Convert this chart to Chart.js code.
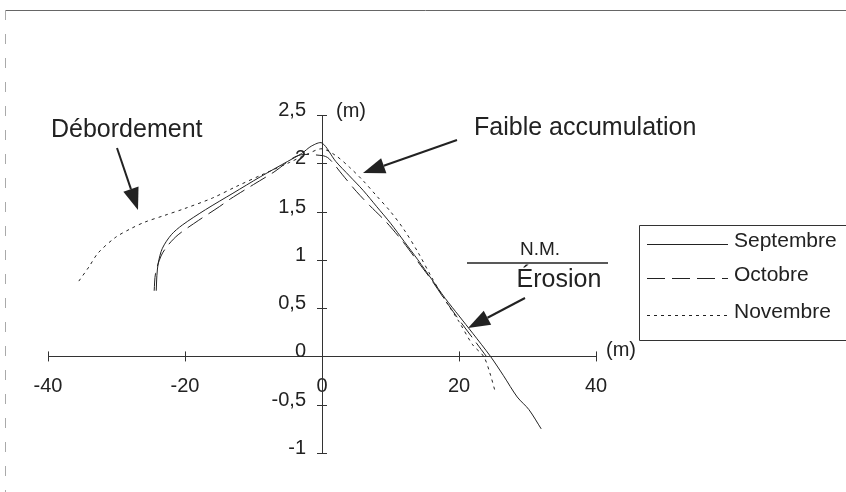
<!DOCTYPE html>
<html>
<head>
<meta charset="utf-8">
<script src="https://cdn.jsdelivr.net/npm/chart.js@4.4.1/dist/chart.umd.min.js"></script>
<style>
  html, body { margin: 0; padding: 0; background: #fff; }
  #wrap { width: 846px; height: 492px; }
</style>
</head>
<body>
<div id="wrap"><canvas id="chart"></canvas></div>
<script>
// profils de plage (distance en m, altitude en m)
var seriesNames = ['Septembre', 'Octobre', 'Novembre'];

var sepX = [-24.2, -24.1, -23.9, -23.3, -22, -20.4, -17, -13, -9, -5, -3, -1.5, 0, 2, 4, 6, 8, 10, 12, 14, 16, 18, 20, 22, 24.6, 26.5, 28.5, 30.2, 32];
var sepY = [0.68, 0.84, 0.97, 1.12, 1.26, 1.36, 1.52, 1.69, 1.86, 2.02, 2.1, 2.18, 2.21, 2.02, 1.87, 1.72, 1.55, 1.38, 1.19, 1.0, 0.8, 0.6, 0.42, 0.24, 0.0, -0.2, -0.42, -0.55, -0.75];

var octX = [-24.5, -24.3, -23.5, -22.5, -21, -18, -15, -13.4, -10, -7, -3.5, 0, 1, 3, 5, 7, 9.4, 11.9, 14, 15.9, 18, 20, 22, 24];
var octY = [0.68, 0.86, 1.04, 1.15, 1.26, 1.41, 1.55, 1.63, 1.78, 1.91, 2.08, 2.08, 2.05, 1.88, 1.71, 1.56, 1.39, 1.18, 0.98, 0.8, 0.58, 0.38, 0.19, 0.0];

var novX = [-35.5, -34, -32.7, -30.2, -28, -25.9, -23, -20.1, -16, -12.5, -8.5, -4.7, -2, 0, 2, 4, 6, 8, 10, 12, 14, 16, 18, 20, 22, 23.6, 24.5, 25.3];
var novY = [0.78, 0.93, 1.07, 1.23, 1.32, 1.39, 1.46, 1.53, 1.64, 1.76, 1.89, 2.01, 2.1, 2.15, 2.08, 1.96, 1.82, 1.66, 1.5, 1.31, 1.08, 0.82, 0.58, 0.36, 0.12, 0.0, -0.17, -0.37];

var xTicks = [-40, -20, 0, 20, 40];
var yTicks = [-1, -0.5, 0, 0.5, 1, 1.5, 2, 2.5];

var FONT = "'Liberation Sans', Arial, sans-serif";

function pts(xs, ys) {
    var out = [];
    for (var i = 0; i < xs.length; i++) out.push({x: xs[i], y: ys[i]});
    return out;
}
function fmt(v) { return String(v).replace('.', ','); }

var dashes = [[], [18, 7], [3, 4]];
var datasets = [];
[[sepX, sepY], [octX, octY], [novX, novY]].forEach(function(s, i) {
    datasets.push({
        label: seriesNames[i],
        data: pts(s[0], s[1]),
        borderColor: '#222',
        borderWidth: 1,
        borderDash: dashes[i],
        pointRadius: 0,
        tension: 0.3,
        fill: false
    });
});

function arrow(ctx, x1, y1, x2, y2) {
    var a = Math.atan2(y2 - y1, x2 - x1);
    var len = 22, w = 8;
    var bx = x2 - len * Math.cos(a), by = y2 - len * Math.sin(a);
    ctx.beginPath();
    ctx.moveTo(x1, y1);
    ctx.lineTo(bx, by);
    ctx.lineWidth = 2;
    ctx.stroke();
    ctx.beginPath();
    ctx.moveTo(x2, y2);
    ctx.lineTo(bx + w * Math.sin(a), by - w * Math.cos(a));
    ctx.lineTo(bx - w * Math.sin(a), by + w * Math.cos(a));
    ctx.closePath();
    ctx.fill();
}

var extras = {
    id: 'extras',
    afterDraw: function(chart) {
        var ctx = chart.ctx;
        var sx = chart.scales.x, sy = chart.scales.y;
        var x0 = sx.getPixelForValue(0), y0 = sy.getPixelForValue(0);
        ctx.save();
        ctx.strokeStyle = '#333';
        ctx.fillStyle = '#222';
        ctx.lineWidth = 1;
        // petits traits de graduation, de part et d'autre des axes
        xTicks.forEach(function(v) {
            if (v == 0) return;
            var px = Math.round(sx.getPixelForValue(v)) + 0.5;
            ctx.beginPath(); ctx.moveTo(px, y0 - 5); ctx.lineTo(px, y0 + 5); ctx.stroke();
        });
        ctx.font = '20px ' + FONT;
        ctx.textAlign = 'right';
        ctx.textBaseline = 'middle';
        yTicks.forEach(function(v) {
            var py = Math.round(sy.getPixelForValue(v)) + 0.5;
            if (v != 0) {
                ctx.beginPath(); ctx.moveTo(x0 - 5, py); ctx.lineTo(x0 + 5, py); ctx.stroke();
            }
            ctx.fillText(fmt(v), x0 - 16, py - 5);
        });

        // cadre
        ctx.strokeStyle = '#666';
        ctx.beginPath(); ctx.moveTo(5, 10.5); ctx.lineTo(846, 10.5); ctx.stroke();
        ctx.strokeStyle = '#aaa';
        ctx.setLineDash([10, 14]);
        ctx.beginPath(); ctx.moveTo(5.5, 10); ctx.lineTo(5.5, 492); ctx.stroke();
        ctx.setLineDash([]);

        // textes
        ctx.fillStyle = '#222';
        ctx.textBaseline = 'middle';
        ctx.textAlign = 'left';
        ctx.font = '25px ' + FONT;
        ctx.fillText('Débordement', 51, 130);
        ctx.fillText('Faible accumulation', 474, 128);
        ctx.textAlign = 'center';
        ctx.fillText('Érosion', 559, 280);
        ctx.font = '19px ' + FONT;
        ctx.fillText('N.M.', 540, 250);
        ctx.font = '20px ' + FONT;
        ctx.textAlign = 'left';
        ctx.fillText('(m)', x0 + 14, sy.getPixelForValue(2.5) - 4);
        ctx.fillText('(m)', sx.getPixelForValue(40) + 10, y0 - 6);

        ctx.strokeStyle = '#222';
        ctx.lineWidth = 1.5;
        ctx.beginPath(); ctx.moveTo(467, 263); ctx.lineTo(608, 263); ctx.stroke();

        ctx.strokeStyle = '#222';
        arrow(ctx, 117, 148, 138, 210);
        arrow(ctx, 457, 140, 363, 173);
        arrow(ctx, 525, 298, 468, 328);

        // légende
        ctx.lineWidth = 1;
        ctx.strokeStyle = '#333';
        ctx.beginPath();
        ctx.moveTo(850, 225.5); ctx.lineTo(639.5, 225.5); ctx.lineTo(639.5, 340.5); ctx.lineTo(850, 340.5);
        ctx.stroke();
        ctx.font = '21px ' + FONT;
        ctx.textAlign = 'left';
        var rows = [244, 278, 315];
        chart.data.datasets.forEach(function(ds, i) {
            ctx.strokeStyle = '#222';
            ctx.setLineDash(ds.borderDash);
            ctx.beginPath(); ctx.moveTo(647, rows[i] + 0.5); ctx.lineTo(728, rows[i] + 0.5); ctx.stroke();
            ctx.setLineDash([]);
            ctx.fillText(ds.label, 734, rows[i] - 3);
        });
        ctx.restore();
    }
};

var ctx0 = document.getElementById('chart').getContext('2d');
var chart = new Chart(ctx0, {
    type: 'line',
    data: { datasets: datasets },
    options: {
        animation: false,
        responsive: true,
        maintainAspectRatio: false,
        layout: { padding: { left: 48, right: 250, top: 115, bottom: 39 } },
        plugins: {
            legend: { display: false },
            tooltip: { enabled: false }
        },
        scales: {
            x: {
                type: 'linear',
                min: -40,
                max: 40,
                position: { y: 0 },
                grid: { display: false, drawTicks: false },
                border: { display: true, color: '#333', width: 1 },
                afterBuildTicks: function(scale) {
                    scale.ticks = xTicks.map(function(v) { return {value: v}; });
                },
                ticks: {
                    autoSkip: false,
                    maxRotation: 0,
                    padding: 18,
                    color: '#222',
                    font: { size: 20, family: FONT },
                    callback: function(v) { return fmt(v); }
                }
            },
            y: {
                min: -1,
                max: 2.5,
                position: { x: 0 },
                grid: { display: false, drawTicks: false },
                border: { display: true, color: '#333', width: 1 },
                ticks: { display: false }
            }
        }
    },
    plugins: [extras]
});
</script>
</body>
</html>
